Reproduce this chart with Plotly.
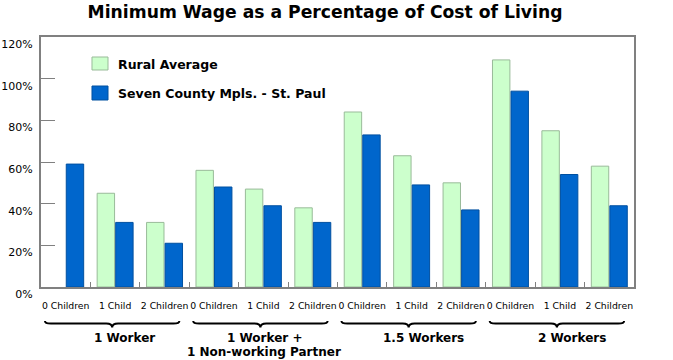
import plotly.graph_objects as go

# ---- data ----
categories = ["0 Children", "1 Child", "2 Children"] * 4
groups = ["1 Worker", "1 Worker +<br>1 Non-working Partner", "1.5 Workers", "2 Workers"]
rural_average = [None, 45, 31, 56, 47, 38, 84, 63, 50, 109, 75, 58]
seven_county = [59, 31, 21, 48, 39, 31, 73, 49, 37, 94, 54, 39]
series_names = ["Rural Average", "Seven County Mpls. - St. Paul"]
y_ticks = [0, 20, 40, 60, 80, 100, 120]
y_tick_labels = ["0%", "20%", "40%", "60%", "80%", "100%", "120%"]

RURAL_FILL, RURAL_LINE = "#CCFFCC", "#99BB99"
METRO_FILL, METRO_LINE = "#0066CC", "#0050A0"
FONT = "DejaVu Sans"

x = list(range(len(categories)))

fig = go.Figure()
fig.add_trace(go.Bar(x=x, y=rural_average, name=series_names[0],
                     marker=dict(color=RURAL_FILL, line=dict(color=RURAL_LINE, width=1)),
                     showlegend=False))
fig.add_trace(go.Bar(x=x, y=seven_county, name=series_names[1],
                     marker=dict(color=METRO_FILL, line=dict(color=METRO_LINE, width=1)),
                     showlegend=False))

# legend drawn as swatches + text inside the plot
legend_items = [(series_names[0], RURAL_FILL, RURAL_LINE, 0.92, 0.868, 0.892),
                (series_names[1], METRO_FILL, METRO_LINE, 0.804, 0.748, 0.776)]
for name, fill, line, y1, y0, yt in legend_items:
    fig.add_shape(type="rect", xref="paper", yref="paper", x0=0.086, x1=0.113, y0=y0, y1=y1,
                  fillcolor=fill, line=dict(color=line, width=1))
    fig.add_annotation(text="<b>" + name + "</b>", xref="paper", yref="paper", x=0.1265, y=yt,
                       xanchor="left", yanchor="middle", showarrow=False,
                       font=dict(family=FONT, size=12.5, color="black"))

# braces and group labels
label_offsets = [0.18, 0.02, 0.24, 0.24]
line_y = [-0.204, -0.26]
y_end, y_body, y_tip = -0.136, -0.146, -0.162
for g, label in enumerate(groups):
    x0 = 3 * g - 0.42
    x1 = 3 * g + 2.3
    xc = (x0 + x1) / 2
    d = 0.12
    path = (f"M {x0},{y_end} Q {x0},{y_body} {x0 + d},{y_body} "
            f"L {xc - d},{y_body} Q {xc},{y_body} {xc},{y_tip} "
            f"Q {xc},{y_body} {xc + d},{y_body} L {x1 - d},{y_body} "
            f"Q {x1},{y_body} {x1},{y_end}")
    fig.add_shape(type="path", xref="x", yref="paper", path=path,
                  line=dict(color="black", width=2))
    for k, part in enumerate(label.split("<br>")):
        fig.add_annotation(text="<b>" + part + "</b>", xref="x", yref="paper",
                           x=3 * g + 1 + label_offsets[g], y=line_y[k],
                           xanchor="center", yanchor="middle", showarrow=False,
                           font=dict(family=FONT, size=12, color="black"))

fig.update_layout(
    width=673, height=360,
    margin=dict(l=41, r=39, t=37, b=73, autoexpand=False),
    paper_bgcolor="white", plot_bgcolor="white",
    barmode="group", bargap=0.25, bargroupgap=0.06,
    title=dict(text="<b>Minimum Wage as a Percentage of Cost of Living</b>",
               x=0.483, xanchor="center", y=0.966, yanchor="middle",
               font=dict(family=FONT, size=17.2, color="black")),
    font=dict(family=FONT, color="black"),
)
fig.update_xaxes(
    range=[-0.5, len(categories) - 0.5], tickmode="array", tickvals=x, ticktext=categories,
    ticks="", tickangle=0, automargin=False, ticklabelstandoff=9,
    tickfont=dict(family=FONT, size=9.3, color="black"),
    showline=True, linecolor="#808080", linewidth=2, mirror=True, showgrid=False, zeroline=False,
    minor=dict(tickmode="array", tickvals=[i + 0.5 for i in x[:-1]], ticks="inside",
               ticklen=5, tickcolor="#808080", tickwidth=1),
)
fig.update_yaxes(
    range=[0, 120], tickmode="array", tickvals=y_ticks, ticktext=y_tick_labels,
    ticks="inside", ticklen=14, tickcolor="#808080", tickwidth=1, automargin=False,
    tickfont=dict(family=FONT, size=11, color="black"), ticklabelshift=7, ticklabelstandoff=4,
    showline=True, linecolor="#808080", linewidth=2, mirror=True, showgrid=False, zeroline=False,
)

fig.write_html("out.html", config={"displayModeBar": False},
               post_script="document.body.style.margin='0';")
